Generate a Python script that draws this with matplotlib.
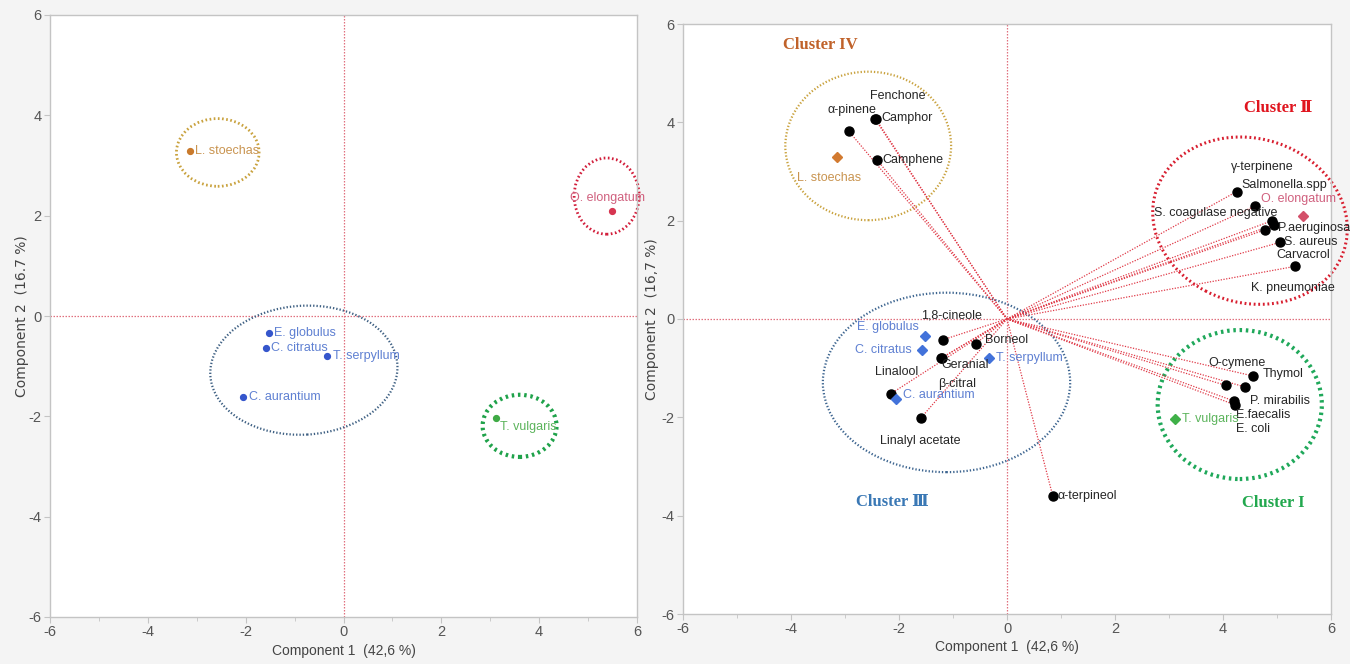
import matplotlib
matplotlib.use("Agg")
import matplotlib.pyplot as plt
from matplotlib.patches import Ellipse
from matplotlib.ticker import MultipleLocator

# ---- data -------------------------------------------------------------
species = ["L. stoechas", "O. elongatum", "E. globulus", "C. citratus",
           "T. serpyllum", "C. aurantium", "T. vulgaris"]
species_pc1 = [-3.14, 5.49, -1.52, -1.58, -0.34, -2.06, 3.12]
species_pc2 = [3.29, 2.10, -0.34, -0.64, -0.80, -1.62, -2.03]

variables = ["α-pinene", "Camphor", "Fenchone", "Camphene",
             "γ-terpinene", "Salmonella.spp", "S. coagulase negative",
             "P.aeruginosa", "Carvacrol", "S. aureus", "K. pneumoniae",
             "Thymol", "O-cymene", "P. mirabilis", "E.faecalis", "E. coli",
             "1,8-cineole", "Borneol", "Geranial", "β-citral", "Linalool",
             "Linalyl acetate", "α-terpineol"]
var_pc1 = [-2.93, -2.44, -2.43, -2.41,
           4.25, 4.60, 4.91, 4.95, 4.77, 5.06, 5.33,
           4.56, 4.05, 4.40, 4.21, 4.23,
           -1.18, -0.58, -1.22, -1.21, -2.15, -1.60, 0.85]
var_pc2 = [3.82, 4.06, 4.07, 3.24,
           2.59, 2.30, 2.00, 1.92, 1.81, 1.56, 1.07,
           -1.16, -1.35, -1.38, -1.67, -1.75,
           -0.42, -0.50, -0.80, -0.79, -1.52, -2.02, -3.61]

cluster_names = ["Cluster I", "Cluster Ⅱ", "Cluster Ⅲ", "Cluster IV"]

x_label = "Component 1  (42,6 %)"
y_label_left = "Component 2  (16.7 %)"
y_label_right = "Component 2  (16,7 %)"

# ---- styling / layout -------------------------------------------------
FONT = ["Liberation Sans", "DejaVu Sans"]
SERIF = ["Liberation Serif", "DejaVu Serif", "DejaVu Sans"]
TICK_C = "#555555"
SPINE_C = "#c4c4c4"
ZERO_C = "#e0707f"
LOAD_C = "#e03a48"
LABEL_FS = 9

sp_point_col = {"L. stoechas": "#c97a2c", "O. elongatum": "#d63550",
                "E. globulus": "#3556cc", "C. citratus": "#3556cc",
                "T. serpyllum": "#3556cc", "C. aurantium": "#3556cc",
                "T. vulgaris": "#3faa45"}
sp_diam_col = {"L. stoechas": "#d27a30", "O. elongatum": "#d4506a",
               "E. globulus": "#4272da", "C. citratus": "#4272da",
               "T. serpyllum": "#4272da", "C. aurantium": "#4272da",
               "T. vulgaris": "#3fb048"}
sp_text_col = {"L. stoechas": "#c99450", "O. elongatum": "#d0607e",
               "E. globulus": "#5f80d2", "C. citratus": "#5f80d2",
               "T. serpyllum": "#5f80d2", "C. aurantium": "#5f80d2",
               "T. vulgaris": "#5cb45c"}

# label offsets in pixels (dx, dy, horizontal alignment)
left_offsets = {"L. stoechas": (5, 0, "left"), "O. elongatum": (-5, 13, "center"),
                "E. globulus": (5, 0, "left"), "C. citratus": (5, 0, "left"),
                "T. serpyllum": (6, 0, "left"), "C. aurantium": (6, 0, "left"),
                "T. vulgaris": (4, -9, "left")}
right_sp_offsets = {"L. stoechas": (-8, -21, "center"),
                    "O. elongatum": (-5, 17, "center"),
                    "E. globulus": (-6, 9, "right"),
                    "C. citratus": (-10, 0, "right"),
                    "T. serpyllum": (7, 0, "left"),
                    "C. aurantium": (7, 4, "left"),
                    "T. vulgaris": (7, 0, "left")}
var_offsets = {"α-pinene": (3, 21, "center"), "Camphor": (6, 1, "left"),
               "Fenchone": (22, 23, "center"), "Camphene": (6, 0, "left"),
               "γ-terpinene": (26, 25, "center"),
               "Salmonella.spp": (29, 21, "center"),
               "S. coagulase negative": (-56, 8, "center"),
               "P.aeruginosa": (4, -3, "left"),
               "Carvacrol": (39, -25, "center"),
               "S. aureus": (4, 0, "left"),
               "K. pneumoniae": (-2, -22, "center"),
               "Thymol": (9, 2, "left"), "O-cymene": (11, 22, "center"),
               "P. mirabilis": (35, -14, "center"),
               "E.faecalis": (29, -14, "center"),
               "E. coli": (18, -24, "center"),
               "1,8-cineole": (8, 24, "center"), "Borneol": (9, 4, "left"),
               "Geranial": (24, -7, "center"), "β-citral": (15, -26, "center"),
               "Linalool": (6, 22, "center"),
               "Linalyl acetate": (0, -23, "center"),
               "α-terpineol": (5, 0, "left")}

# ellipses: (centre, width, height, angle, colour, linewidth)
left_ellipses = [((-2.57, 3.26), 1.69, 1.35, 0, "#c9a23e", 2.0),
                 ((5.38, 2.39), 1.33, 1.52, 0, "#d21f3c", 2.0),
                 ((-0.81, -1.08), 3.83, 2.57, 3, "#3d5f82", 1.6),
                 ((3.60, -2.19), 1.51, 1.24, 0, "#1fa24a", 3.0)]
right_ellipses = [((4.31, -1.74), 3.04, 3.03, 0, "#1fa85a", 3.0),
                  ((4.50, 2.00), 3.70, 3.30, -30, "#d81f30", 2.2),
                  ((-1.12, -1.29), 4.58, 3.65, 0, "#3d6590", 1.6),
                  ((-2.57, 3.52), 3.07, 3.02, 0, "#c9a23e", 1.6)]
cluster_pos = [(4.93, -3.74), (5.02, 4.30), (-2.12, -3.73), (-3.45, 5.57)]
cluster_col = ["#22a84e", "#e0141e", "#3a78b5", "#c0622a"]

plt.rcParams["font.family"] = FONT
plt.rcParams["axes.unicode_minus"] = False

fig = plt.figure(figsize=(13.5, 6.64), dpi=100)
fig.patch.set_facecolor("#f4f4f4")

axL = fig.add_axes([50 / 1350, 1 - 617 / 664, 587 / 1350, 602 / 664])
axR = fig.add_axes([683 / 1350, 1 - 614 / 664, 648 / 1350, 590 / 664])


def style_axes(ax, ylab, ypad):
    ax.set_facecolor("white")
    ax.set_xlim(-6, 6)
    ax.set_ylim(-6, 6)
    ax.xaxis.set_major_locator(MultipleLocator(2))
    ax.yaxis.set_major_locator(MultipleLocator(2))
    ax.xaxis.set_minor_locator(MultipleLocator(1))
    for s in ax.spines.values():
        s.set_color(SPINE_C)
        s.set_linewidth(1.0)
    ax.tick_params(which="major", length=4, color=SPINE_C, labelcolor=TICK_C,
                   labelsize=10.5, pad=2)
    ax.tick_params(which="minor", length=3, color=SPINE_C)
    ax.set_xlabel(x_label, fontsize=10, color="#444444", labelpad=3)
    ax.set_ylabel(ylab, fontsize=10, color="#444444", labelpad=ypad,
                  family=["DejaVu Sans"])
    ax.axhline(0, color=ZERO_C, lw=0.9, ls=(0, (1.2, 1.2)), zorder=1)
    ax.axvline(0, color=ZERO_C, lw=0.9, ls=(0, (1.2, 1.2)), zorder=1)


def add_ellipses(ax, specs):
    for (c, w, h, ang, col, lw) in specs:
        ax.add_patch(Ellipse(c, w, h, angle=ang, fill=False, edgecolor=col,
                             lw=lw, ls=(0, (0.6, 0.9)), clip_on=False,
                             zorder=2))


style_axes(axL, y_label_left, 0)
style_axes(axR, y_label_right, 2)

# ---- left panel: species scores ---------------------------------------
add_ellipses(axL, left_ellipses)
for name, x, y in zip(species, species_pc1, species_pc2):
    axL.plot(x, y, "o", ms=4.2, color=sp_point_col[name], zorder=4)
    dx, dy, ha = left_offsets[name]
    axL.annotate(name, (x, y), xytext=(dx, dy), textcoords="offset pixels",
                 ha=ha, va="center", fontsize=LABEL_FS, color=sp_text_col[name],
                 zorder=5)

# ---- right panel: biplot ----------------------------------------------
add_ellipses(axR, right_ellipses)
for x, y in zip(var_pc1, var_pc2):
    axR.plot([0, x], [0, y], color=LOAD_C, lw=0.9, ls=(0, (1, 1.2)),
             zorder=3)
for name, x, y in zip(variables, var_pc1, var_pc2):
    axR.plot(x, y, "o", ms=6.5, color="black", zorder=5)
    dx, dy, ha = var_offsets[name]
    axR.annotate(name, (x, y), xytext=(dx, dy), textcoords="offset pixels",
                 ha=ha, va="center", fontsize=LABEL_FS, color="#262626",
                 zorder=6)
for name, x, y in zip(species, species_pc1, species_pc2):
    axR.plot(x, y, "D", ms=5.5, color=sp_diam_col[name], zorder=5)
    dx, dy, ha = right_sp_offsets[name]
    axR.annotate(name, (x, y), xytext=(dx, dy), textcoords="offset pixels",
                 ha=ha, va="center", fontsize=LABEL_FS, color=sp_text_col[name],
                 zorder=6)

for name, (cx, cy), col in zip(cluster_names, cluster_pos, cluster_col):
    axR.text(cx, cy, name, ha="center", va="center", fontsize=12,
             fontweight="bold", color=col, family=SERIF, zorder=6)

fig.savefig("out.png", dpi=100, facecolor=fig.get_facecolor())
